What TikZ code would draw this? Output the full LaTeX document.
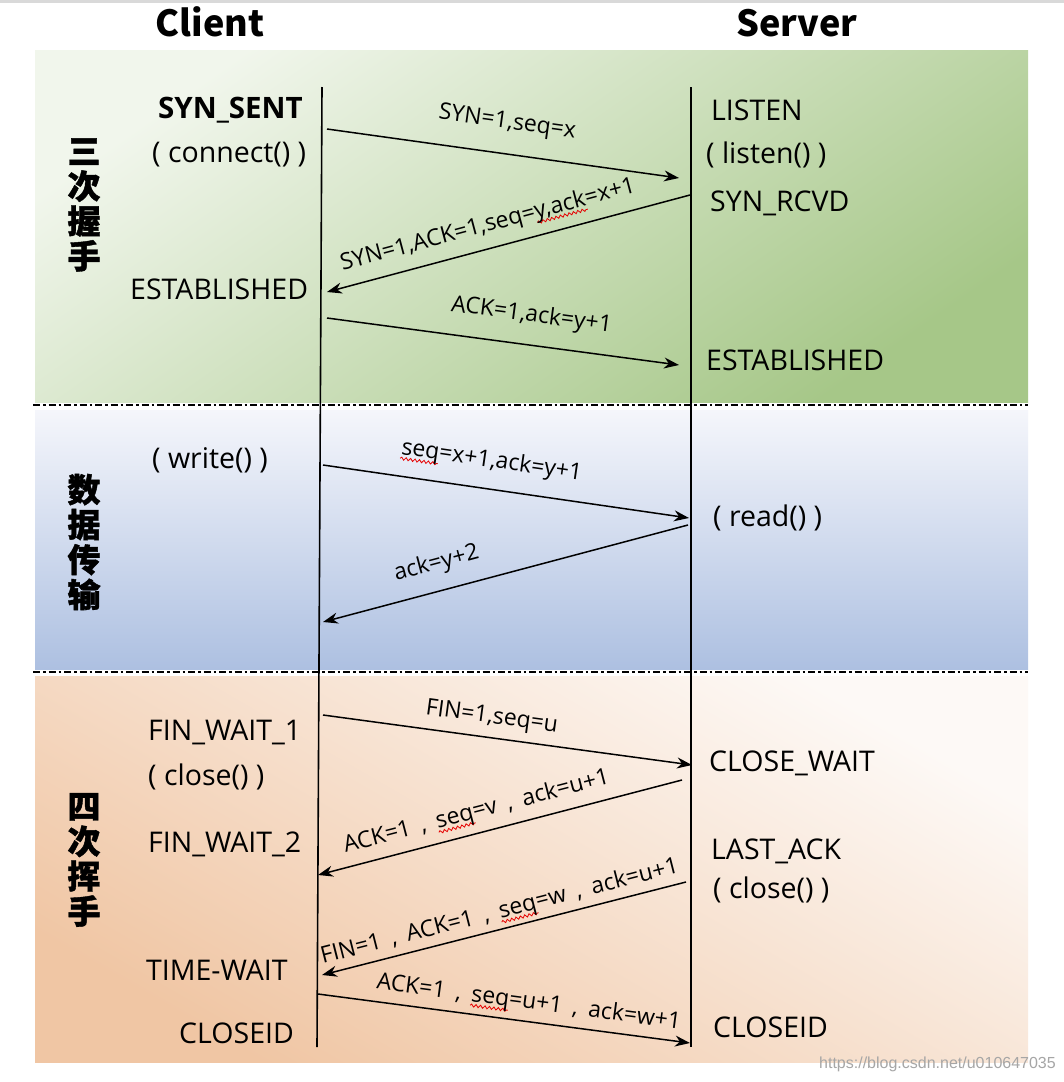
\documentclass[tikz,border=0pt]{standalone}
\usepackage{fontspec}
\setmainfont{Open Sans}
\newfontfamily\cjk{Noto Sans CJK SC}
\newfontfamily\cjkheavy{Noto Sans CJK SC}[BoldFeatures={FakeBold=1.2}]
\newfontfamily\wmfont{Liberation Sans}
\usetikzlibrary{arrows.meta,decorations.pathmorphing}
\newsavebox\sqbox
\newcommand\redsq[1]{\sbox\sqbox{#1}\rlap{\tikz[overlay,baseline=0pt]\draw[arrows=-,red!90!black,line width=0.8pt,decorate,decoration={snake,amplitude=1.4pt,segment length=4.5pt}] (0pt,-4pt) -- (\wd\sqbox,-4pt);}\usebox\sqbox}
\newcommand\cm{\hspace{0.45em},\hspace{0.45em}}
\definecolor{gA}{HTML}{F1F6EC}
\definecolor{gB}{HTML}{A6C788}
\definecolor{bA}{HTML}{F5F6FB}
\definecolor{bB}{HTML}{ADC0E1}
\definecolor{oA}{HTML}{FDF9F6}
\definecolor{oB}{HTML}{F0C6A4}
\tikzset{
  state/.style={inner sep=0pt, anchor=base west, font=\fontsize{28.5}{30}\selectfont},
  bstate/.style={state, font=\bfseries\fontsize{29.5}{30}\selectfont},
  head/.style={inner sep=0pt, anchor=base, font=\cjk\bfseries\fontsize{36}{40}\selectfont},
  phase/.style={inner sep=0pt, align=center, font=\cjkheavy\bfseries\fontsize{33}{35}\selectfont},
  lbl/.style={inner sep=0pt, sloped, font=\fontsize{23}{25}\selectfont},
  msg/.style={line width=1.5pt, -{Stealth[length=15pt,width=11pt]}},
  life/.style={line width=1.6pt},
  sep/.style={line width=2.4pt, dash pattern=on 7pt off 3pt on 2.5pt off 3pt}
}
\begin{document}
\begin{tikzpicture}[x=1pt,y=-1pt]
\useasboundingbox (0,0) rectangle (1064,1082);
\fill[white] (0,0) rectangle (1064,1082);
\fill[black!15] (0,0) rectangle (1064,2.5);
% panels
\shade[top color=gA, bottom color=gB, shading angle=35] (35,50) rectangle (1028,402);
\shade[top color=bA, bottom color=bB] (35,410) rectangle (1028,669);
\shade[top color=oA, bottom color=oB, shading angle=-30] (35,676) rectangle (1028,1062);
\draw[sep] (33,405) -- (1028,405);
\draw[sep] (33,672) -- (1028,672);
% lifelines
\coordinate (ct) at (322,87);
\coordinate (cb) at (317,1047);
\coordinate (st) at (691,87);
\coordinate (sb) at (691,1047);
\draw[life] (ct) -- (cb);
\draw[life] (st) -- (sb);
% headings
\node[head] (client) at (210,36) {Client};
\node[head] (server) at (797,36) {Server};
% phase labels
\node[phase] (p1) at (84,205) {三\\次\\握\\手};
\node[phase] (p2) at (84,542) {数\\据\\传\\输};
\node[phase] (p3) at (84,860) {四\\次\\挥\\手};
% client states
\node[bstate] (synsent) at (158,118) {SYN\_SENT};
\node[state] (connect) at (152,162) {( connect() )};
\node[state] (cest) at (130,299) {ESTABLISHED};
\node[state] (write) at (152,468) {( write() )};
\node[state] (fw1) at (148,740) {FIN\_WAIT\_1};
\node[state] (cclose) at (148,785) {( close() )};
\node[state] (fw2) at (148,852) {FIN\_WAIT\_2};
\node[state] (tw) at (146,980) {TIME-WAIT};
\node[state] (cclosed) at (179,1043) {CLOSEID};
% server states
\node[state] (listen) at (711,120) {LISTEN};
\node[state] (listenf) at (706,163) {( listen() )};
\node[state] (synrcvd) at (710,211) {SYN\_RCVD};
\node[state] (sest) at (706,370) {ESTABLISHED};
\node[state] (read) at (713,526) {( read() )};
\node[state] (cw) at (709,771) {CLOSE\_WAIT};
\node[state] (lastack) at (711,859) {LAST\_ACK};
\node[state] (sclose) at (713,898) {( close() )};
\node[state] (sclosed) at (713,1037) {CLOSEID};
% message end points
\coordinate (a1) at (327,129); \coordinate (b1) at (679,178);
\coordinate (a2) at (690,195); \coordinate (b2) at (327,292);
\coordinate (a3) at (327,318); \coordinate (b3) at (679,365);
\coordinate (a4) at (323,465); \coordinate (b4) at (689,518);
\coordinate (a5) at (688,525); \coordinate (b5) at (323,622);
\coordinate (a6) at (323,715); \coordinate (b6) at (692,765);
\coordinate (a7) at (682,780); \coordinate (b7) at (318,875);
\coordinate (a8) at (686,882); \coordinate (b8) at (322,975);
\coordinate (a9) at (318,994); \coordinate (b9) at (690,1043);
% messages
\draw[msg] (a1) -- node[lbl, pos=0.50, above=19pt] (l1) {SYN=1,seq=x} (b1);
\draw[msg] (a2) -- node[lbl, pos=0.54, above=11pt] (l2) {SYN=1,ACK=1,seq=\redsq{y,ack}=x+1} (b2);
\draw[msg] (a3) -- node[lbl, pos=0.57, above=17pt] (l3) {ACK=1,ack=y+1} (b3);
\draw[msg] (a4) -- node[lbl, pos=0.45, above=16pt] (l4) {\redsq{seq}=x+1,ack=y+1} (b4);
\draw[msg] (a5) -- node[lbl, pos=0.67, above=15pt] (l5) {ack=y+2} (b5);
\draw[msg] (a6) -- node[lbl, pos=0.45, above=8pt] (l6) {FIN=1,seq=u} (b6);
\draw[msg] (a7) -- node[lbl, pos=0.55, above=9pt] (l7) {ACK=1\cm\redsq{seq}=v\cm ack=u+1} (b7);
\draw[msg] (a8) -- node[lbl, pos=0.50, above=5pt] (l8) {FIN=1\cm ACK=1\cm\redsq{seq}=w\cm ack=u+1} (b8);
\draw[msg] (a9) -- node[lbl, pos=0.56, above=7pt] (l9) {ACK=1\cm\redsq{seq}=u+1\cm ack=w+1} (b9);
% watermark
\node[inner sep=0pt, anchor=base east, text=black!35, font=\wmfont\fontsize{16}{18}\selectfont] (wm) at (1056,1068) {https://blog.csdn.net/u010647035};
\end{tikzpicture}
\end{document}
